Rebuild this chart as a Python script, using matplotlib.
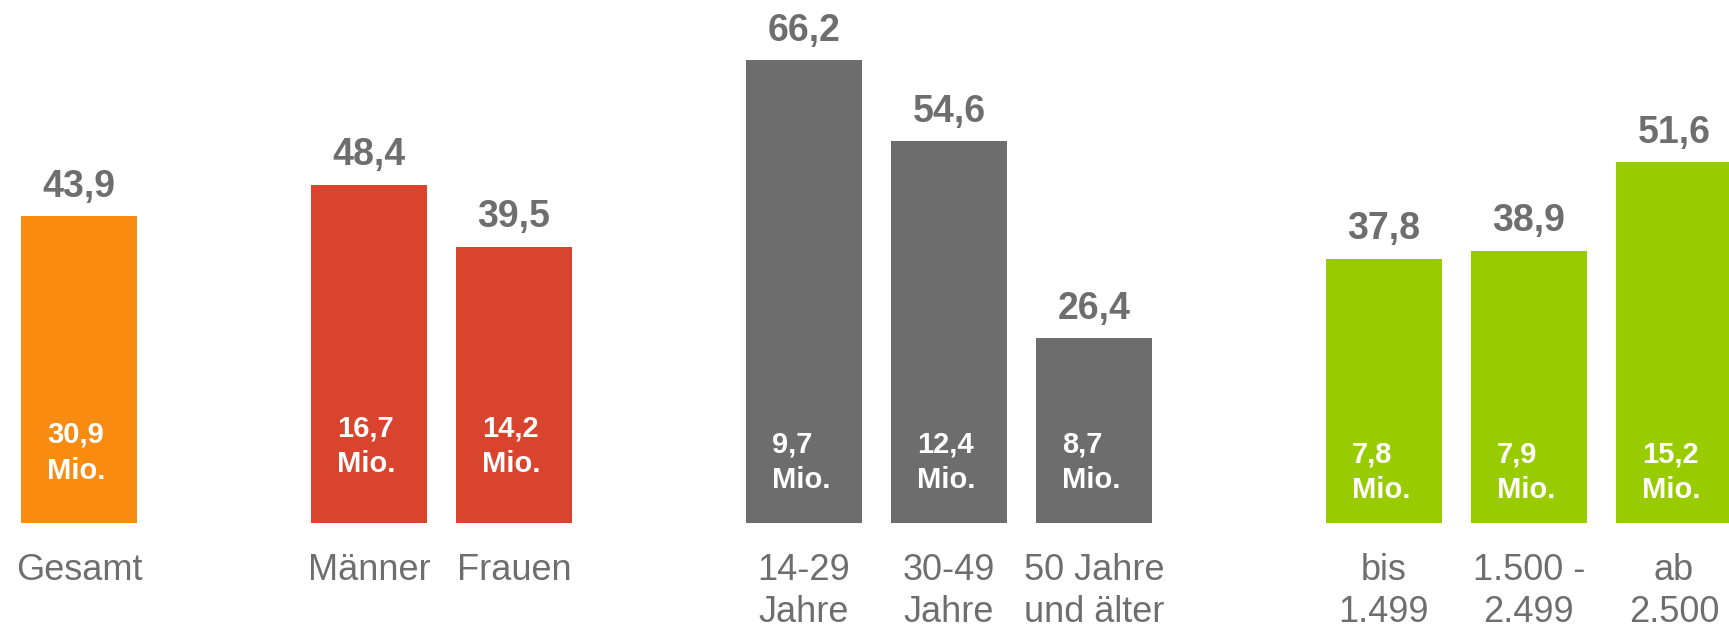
import numpy as np
import matplotlib
matplotlib.use("Agg")
import matplotlib.pyplot as plt

plt.rcParams['font.family'] = ['Liberation Sans', 'DejaVu Sans']

# Daten: Anteil in %, absolute Zahl in Mio.
categories = ["Gesamt", "Männer", "Frauen",
              "14-29\nJahre", "30-49\nJahre", "50 Jahre\nund älter",
              "bis\n1.499", "1.500 -\n2.499", "ab\n2.500"]
percent = [43.9, 48.4, 39.5, 66.2, 54.6, 26.4, 37.8, 38.9, 51.6]
millions = [30.9, 16.7, 14.2, 9.7, 12.4, 8.7, 7.8, 7.9, 15.2]
groups = [0, 1, 1, 2, 2, 2, 3, 3, 3]

group_colors = ["#F98C10", "#D9442F", "#6D6D6D", "#99CC00"]
inner_y = [10.0, 11.0, 8.7, 7.2]  # Höhe der weißen Beschriftung je Gruppe
text_gray = "#6E6E6E"

def fmt(v):
    return f"{v:.1f}".replace(".", ",")

# x-Positionen: eine leere Lücke zwischen den Gruppen
xpos = []
x = 0
for i, g in enumerate(groups):
    if i > 0 and g != groups[i - 1]:
        x += 1
    xpos.append(x)
    x += 1
xpos = np.array(xpos)

fig = plt.figure(figsize=(17.29, 6.27), dpi=100)
ax = fig.add_axes([0, 0, 1, 1])
ax.set_xlim(-0.545, 11.38)
ax.set_ylim(-14.93, 74.82)
ax.axis('off')

colors = [group_colors[g] for g in groups]
bars = ax.bar(xpos, percent, width=0.8, color=colors)

for xi, p, m, g, cat in zip(xpos, percent, millions, groups, categories):
    ax.annotate(fmt(p), xy=(xi, p), xytext=(0, 14), textcoords='offset points',
                ha='center', va='baseline', fontsize=27, fontweight='bold', color=text_gray)
    ax.text(xi - 0.02, inner_y[g], f"{fmt(m)}\nMio.", ha='center', va='center',
            multialignment='left', fontsize=21, fontweight='bold', color='white',
            linespacing=1.35)
    ax.annotate(cat, xy=(xi, 0), xytext=(0, -22), textcoords='offset points',
                ha='center', va='top', fontsize=26, color=text_gray, linespacing=1.25)

fig.savefig("out.png", dpi=100, facecolor='white')
